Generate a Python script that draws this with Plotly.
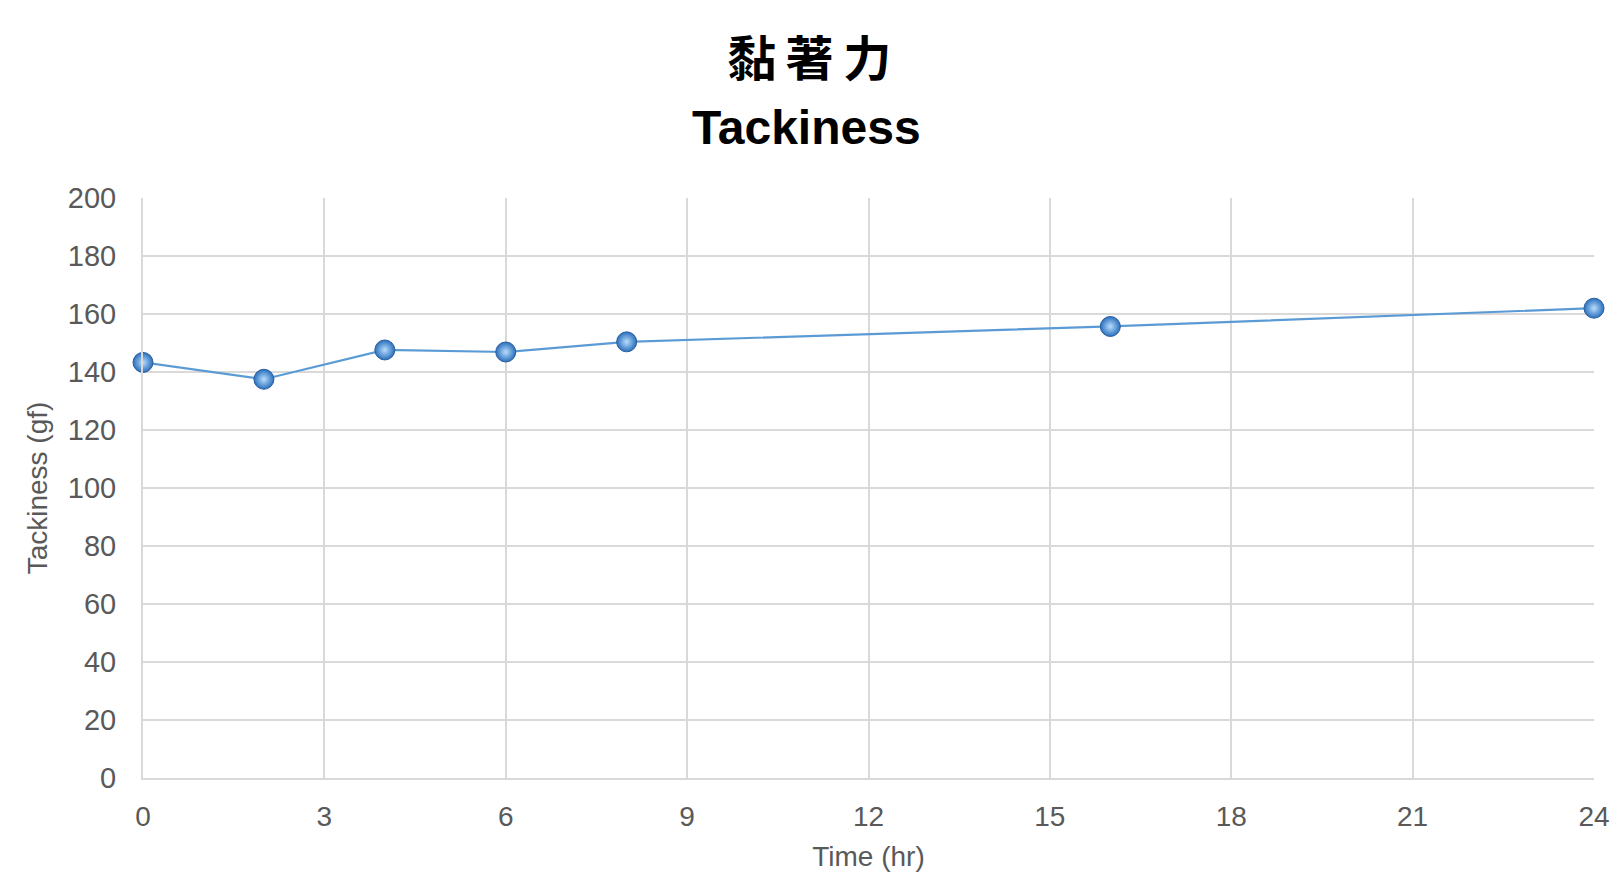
import plotly.graph_objects as go

# Tackiness measurements over time
time_hr = [0, 2, 4, 6, 8, 16, 24]
tackiness_gf = [143.3, 137.5, 147.6, 146.9, 150.4, 155.7, 162.0]

x_ticks = [0, 3, 6, 9, 12, 15, 18, 21, 24]
y_ticks = [0, 20, 40, 60, 80, 100, 120, 140, 160, 180, 200]

title_cn = "黏\u2009著\u2009力"
title_en = "Tackiness"
x_title = "Time (hr)"
y_title = "Tackiness (gf)"

grid = "#d9d9d9"
label_grey = "#595959"
latin = "Liberation Sans, Arial, sans-serif"

fig = go.Figure()
fig.add_trace(go.Scatter(
    x=time_hr, y=tackiness_gf,
    mode="lines+markers",
    line=dict(color="#5b9bd5", width=2.2),
    marker=dict(
        size=20,
        color="#2a6fbd",
        gradient=dict(type="radial", color="#b8ddfc"),
        line=dict(color="#2a5f9e", width=1),
    ),
    cliponaxis=False,
    showlegend=False,
))

fig.update_layout(
    width=1612, height=872,
    margin=dict(l=143, r=18, t=198, b=94, autoexpand=False),
    paper_bgcolor="white", plot_bgcolor="white",
    font=dict(family=latin, color=label_grey, size=28),
    annotations=[
        dict(text=title_cn, x=0.459, y=1.246, xref="paper", yref="paper",
             xanchor="center", yanchor="middle", showarrow=False,
             font=dict(family="Noto Sans CJK TC", size=48, color="black", weight="bold")),
        dict(text=title_en, x=0.457, y=1.1207, xref="paper", yref="paper",
             xanchor="center", yanchor="middle", showarrow=False,
             font=dict(family=latin, size=48, color="black", weight="bold")),
    ],
)

fig.update_xaxes(
    range=[0, 24], tickvals=x_ticks, ticktext=[str(v) for v in x_ticks],
    showgrid=True, gridcolor=grid, gridwidth=2,
    showline=True, linecolor=grid, linewidth=2,
    zeroline=False, ticks="", ticklabelstandoff=12, automargin=False,
    tickfont=dict(size=28, color=label_grey),
    title=dict(text=x_title, font=dict(size=28, color=label_grey), standoff=18),
)
fig.update_yaxes(
    range=[0, 200], tickvals=y_ticks, ticktext=[str(v) for v in y_ticks],
    showgrid=True, gridcolor=grid, gridwidth=2,
    showline=True, linecolor=grid, linewidth=2,
    zeroline=False, ticks="", ticklabelstandoff=19, automargin=False,
    tickfont=dict(size=29, color=label_grey),
    title=dict(text=y_title, font=dict(size=28, color=label_grey), standoff=12),
)

fig.write_html("out.html")
